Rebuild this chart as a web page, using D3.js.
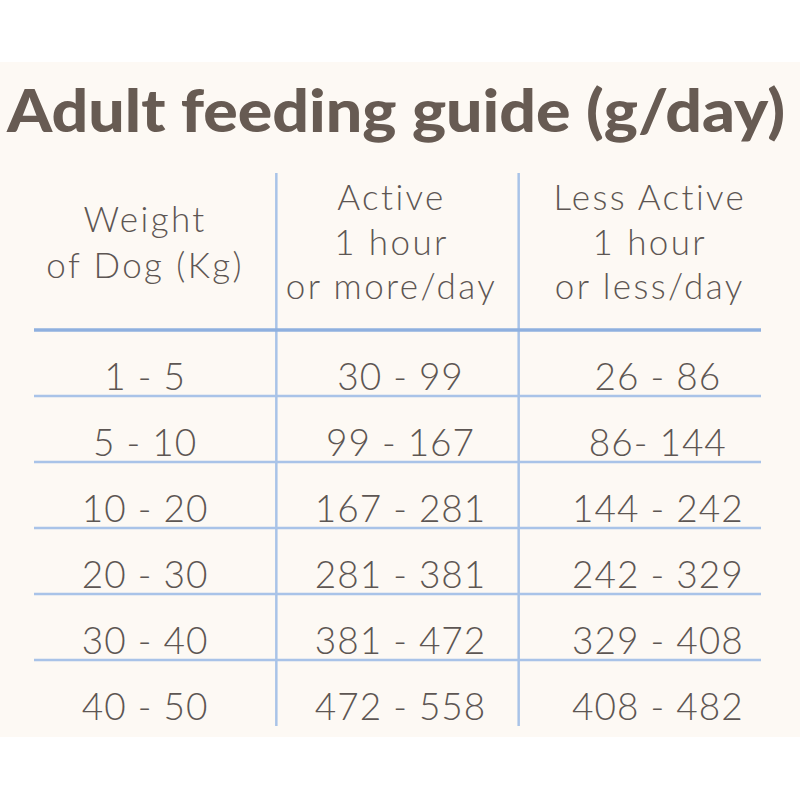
<!DOCTYPE html>
<html>
<head>
<meta charset="utf-8">
<script src="https://cdn.jsdelivr.net/npm/d3@7"></script>
<style>
  body { margin: 0; background: #ffffff; }
  svg { display: block; }
</style>
</head>
<body>
<div id="container"></div>
<script>
/* DATA */
const title = "Adult feeding guide (g/day)"
const columns = ["weight", "active", "less"]
const headers = [
  ["Weight", "of Dog (Kg)"],
  ["Active", "1 hour", "or more/day"],
  ["Less Active", "1 hour", "or less/day"]
]
const weights = ["1 - 5", "5 - 10", "10 - 20", "20 - 30", "30 - 40", "40 - 50"]
const active = ["30 - 99", "99 - 167", "167 - 281", "281 - 381", "381 - 472", "472 - 558"]
const lessActive = ["26 - 86", "86- 144", "144 - 242", "242 - 329", "329 - 408", "408 - 482"]

/* CONSTANTS */
const width = 800, height = 800
const tableLeft = 34, tableRight = 761
const headTop = 173, headBottom = 330, tableBottom = 726
// nudges of text from the column centre, like in the printed guide
const headShift = [-10, -6, 10]
const cellShift = [-10, 3, 18]
const textColor = "#5d5653"
const lineColor = "#a9c3e8"

const svg = d3.select("#container")
  .append("svg")
  .attr("width", width)
  .attr("height", height)

// cream panel
svg.append("rect")
  .attr("x", 0).attr("y", 62)
  .attr("width", width).attr("height", 675)
  .attr("fill", "#fdf9f4")

// title
svg.append("text")
  .attr("x", 7)
  .attr("y", 132)
  .attr("font-family", "Lato, 'Open Sans', sans-serif")
  .attr("font-weight", 900)
  .attr("font-size", 59)
  .attr("fill", "#675b53")
  .attr("textLength", 778)
  .attr("lengthAdjust", "spacingAndGlyphs")
  .text(title)

// SCALES
const xScale = d3.scaleBand()
  .domain(columns)
  .range([tableLeft, tableRight])

const yScale = d3.scaleBand()
  .domain(weights)
  .range([headBottom, tableBottom])

const rows = weights.map((w, i) => [w, active[i], lessActive[i]])

// vertical dividers
svg.selectAll("line.vline")
  .data(columns.slice(1))
  .join("line")
  .attr("class", "vline")
  .attr("x1", d => xScale(d)).attr("x2", d => xScale(d))
  .attr("y1", headTop).attr("y2", tableBottom)
  .attr("stroke", lineColor)
  .attr("stroke-width", 2.5)

// row lines
svg.selectAll("line.hline")
  .data(weights.slice(1))
  .join("line")
  .attr("class", "hline")
  .attr("x1", tableLeft).attr("x2", tableRight)
  .attr("y1", d => yScale(d)).attr("y2", d => yScale(d))
  .attr("stroke", lineColor)
  .attr("stroke-width", 2.5)

// header line
svg.append("line")
  .attr("x1", tableLeft).attr("x2", tableRight)
  .attr("y1", headBottom).attr("y2", headBottom)
  .attr("stroke", "#8fb0df")
  .attr("stroke-width", 3.5)

// header text
const headG = svg.selectAll("text.head")
  .data(headers)
  .join("text")
  .attr("class", "head")
  .attr("text-anchor", "middle")
  .attr("font-family", "Lato, sans-serif")
  .attr("font-weight", 300)
  .attr("font-size", 35)
  .attr("letter-spacing", 2.4)
  .attr("fill", textColor)

headG.selectAll("tspan")
  .data((d, i) => d.map(t => ({t, i, n: d.length})))
  .join("tspan")
  .attr("x", d => xScale(columns[d.i]) + xScale.bandwidth() / 2 + headShift[d.i])
  .attr("y", (d, j) => (d.n === 2 ? 232 : 210) + j * (d.n === 2 ? 46 : 44.5))
  .text(d => d.t)

// body cells
svg.selectAll("g.row")
  .data(rows)
  .join("g")
  .attr("class", "row")
  .selectAll("text")
  .data((r, ri) => r.map((v, ci) => ({v, ci, w: weights[ri]})))
  .join("text")
  .attr("x", d => xScale(columns[d.ci]) + xScale.bandwidth() / 2 + cellShift[d.ci])
  .attr("y", d => yScale(d.w) + yScale.bandwidth() - 6)
  .attr("text-anchor", "middle")
  .attr("font-family", "Lato, sans-serif")
  .attr("font-weight", 300)
  .attr("font-size", 37)
  .attr("letter-spacing", 1)
  .attr("fill", textColor)
  .text(d => d.v)
</script>
</body>
</html>
